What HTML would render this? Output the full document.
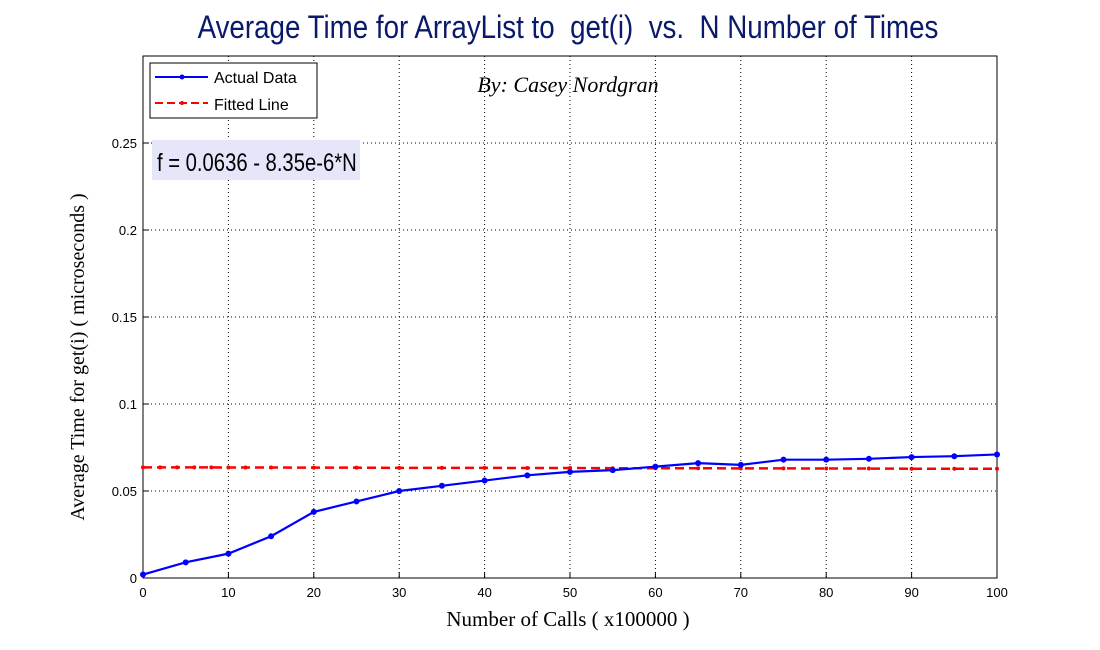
<!DOCTYPE html>
<html><head><meta charset="utf-8"><style>
body{margin:0;background:#fff;}
svg{display:block;}
text{white-space:pre;}
</style></head><body>
<svg id="chart" width="1100" height="650" xmlns="http://www.w3.org/2000/svg">
<rect x="0" y="0" width="1100" height="650" fill="#fff"/>
<text x="568" y="38" text-anchor="middle" font-family="'Liberation Sans Narrow','Liberation Sans',sans-serif" font-size="32" fill="#0a1a6a" transform="translate(568,0) scale(0.867,1) translate(-568,0)">Average Time for ArrayList to  get(i)  vs.  N Number of Times</text>
<g id="grid"></g>
<rect x="143" y="56" width="854" height="522" fill="none" stroke="#000" stroke-width="1"/>
<g id="ticks"></g>
<g id="series"></g>
<text x="568" y="92" text-anchor="middle" font-family="'Liberation Serif',serif" font-style="italic" font-size="22">By: Casey Nordgran</text>
<rect x="152" y="140" width="208" height="40" fill="#e6e6fa"/>
<text x="157" y="171" font-family="'Liberation Sans Narrow','Liberation Sans',sans-serif" font-size="25" transform="translate(157,0) scale(0.81,1) translate(-157,0)">f = 0.0636 - 8.35e-6*N</text>
<g>
<rect x="150" y="63" width="167" height="55" fill="#fff" stroke="#000"/>
<line x1="155" y1="77" x2="208" y2="77" stroke="#0000ff" stroke-width="2"/>
<circle cx="182" cy="77" r="2.5" fill="#0000ff"/>
<text x="214" y="83" font-family="'Liberation Sans',sans-serif" font-size="16">Actual Data</text>
<line x1="155" y1="103" x2="208" y2="103" stroke="#ff0000" stroke-width="2" stroke-dasharray="8,4"/>
<circle cx="182" cy="103" r="2" fill="#ff0000"/>
<text x="214" y="110" font-family="'Liberation Sans',sans-serif" font-size="16">Fitted Line</text>
</g>
<text x="568" y="626" text-anchor="middle" font-family="'Liberation Serif',serif" font-size="21">Number of Calls ( x100000 )</text>
<text x="0" y="0" text-anchor="middle" font-family="'Liberation Serif',serif" font-size="20" transform="translate(84,357) rotate(-90)">Average Time for get(i) ( microseconds )</text>
</svg>
<script>
const xs=[0,5,10,15,20,25,30,35,40,45,50,55,60,65,70,75,80,85,90,95,100];
const actual=[0.002,0.009,0.014,0.024,0.038,0.044,0.050,0.053,0.056,0.059,0.061,0.062,0.064,0.066,0.065,0.068,0.068,0.0685,0.0695,0.070,0.071];
const fitX=[0,2,4,6,8,10,12,15,20,25,30,35,40,45,50,55,60,65,70,75,80,85,90,95,100];
const fitted=[0.0636,0.0636,0.0636,0.0636,0.0636,0.0635,0.0635,0.0635,0.0634,0.0634,0.0633,0.0633,0.0633,0.0632,0.0632,0.0631,0.0631,0.0631,0.0630,0.0630,0.0629,0.0629,0.0628,0.0628,0.0628];
const xTicks=[0,10,20,30,40,50,60,70,80,90,100];
const yTicks=[0,0.05,0.1,0.15,0.2,0.25];
const yTickLabels=["0","0.05","0.1","0.15","0.2","0.25"];
const NS="http://www.w3.org/2000/svg";
const X=v=>143+v*8.54, Y=v=>578-v*1740;
function mk(tag,attrs,parent){const e=document.createElementNS(NS,tag);for(const k in attrs)e.setAttribute(k,attrs[k]);document.getElementById(parent).appendChild(e);return e;}
xTicks.forEach(t=>{
 if(t>0&&t<100){const g=mk('line',{x1:X(t),x2:X(t),y1:56,y2:578,stroke:'#000','stroke-dasharray':'1,3'},'grid');
 
 }
 const tk=mk('line',{x1:X(t),x2:X(t),y1:578,y2:572,stroke:'#000'},'ticks');
 
 
 const l=mk('text',{x:X(t),y:597,'text-anchor':'middle','font-family':"'Liberation Sans',sans-serif",'font-size':13},'ticks');
 l.textContent=t;
 
 
});
yTicks.forEach((t,i)=>{
 if(t>0){const g=mk('line',{x1:143,x2:997,y1:Y(t),y2:Y(t),stroke:'#000','stroke-dasharray':'1,3'},'grid');
 
 }
 const tk=mk('line',{x1:143,x2:149,y1:Y(t),y2:Y(t),stroke:'#000'},'ticks');
 
 
 const l=mk('text',{x:137,y:Y(t)+5,'text-anchor':'end','font-family':"'Liberation Sans',sans-serif",'font-size':13},'ticks');
 l.textContent=yTickLabels[i];
 
 
});
const fl=mk('polyline',{points:fitX.map((x,i)=>X(x)+','+Y(fitted[i])).join(' '),fill:'none',stroke:'#ff0000','stroke-width':2.5,'stroke-dasharray':'9,5'},'series');


fitX.forEach((x,i)=>{const c=mk('circle',{cx:X(x),cy:Y(fitted[i]),r:2,fill:'#ff0000'},'series');
 
 });
const al=mk('polyline',{points:xs.map((x,i)=>X(x)+','+Y(actual[i])).join(' '),fill:'none',stroke:'#0000ff','stroke-width':2.2},'series');


xs.forEach((x,i)=>{const c=mk('circle',{cx:X(x),cy:Y(actual[i]),r:3,fill:'#0000ff'},'series');
 
 });
</script>
</body></html>
